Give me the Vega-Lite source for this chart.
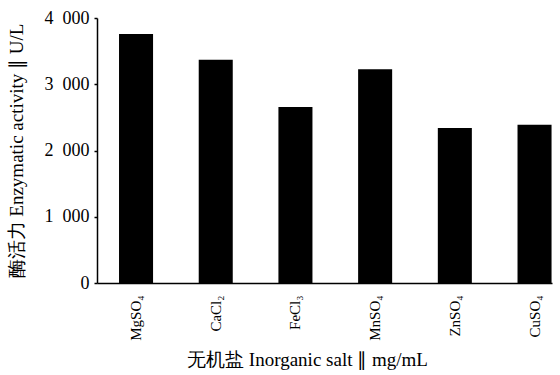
{
  "$schema": "https://vega.github.io/schema/vega-lite/v6.json",
  "autosize": {"type": "none"},
  "padding": {"left": 97, "top": 18, "right": 8, "bottom": 92},
  "width": 455,
  "height": 265,
  "background": "white",
  "config": {
    "view": {"stroke": null},
    "font": "Liberation Serif"
  },
  "data": {
    "values": [
      {"salt": "MgSO₄", "activity": 3760},
      {"salt": "CaCl₂", "activity": 3370},
      {"salt": "FeCl₃", "activity": 2655},
      {"salt": "MnSO₄", "activity": 3225},
      {"salt": "ZnSO₄", "activity": 2340},
      {"salt": "CuSO₄", "activity": 2390}
    ]
  },
  "mark": {"type": "bar", "color": "black"},
  "encoding": {
    "x": {
      "field": "salt",
      "type": "nominal",
      "sort": null,
      "scale": {"paddingInner": 0.573, "paddingOuter": 0.141, "align": 0.98},
      "axis": {
        "title": "无机盐 Inorganic salt ∥ mg/mL",
        "titleFont": "Liberation Serif",
        "titleFontSize": 19,
        "titleFontWeight": "normal",
        "titleColor": "black",
        "titlePadding": 10,
        "titleX": 210,
        "labelAngle": -90,
        "labelAlign": "right",
        "labelBaseline": "middle",
        "labelFont": "Liberation Serif",
        "labelFontSize": 15,
        "labelColor": "black",
        "labelPadding": 12,
        "ticks": false,
        "domainColor": "black",
        "domainWidth": 1.5,
        "grid": false
      }
    },
    "y": {
      "field": "activity",
      "type": "quantitative",
      "scale": {"domain": [0, 4000]},
      "axis": {
        "title": "酶活力 Enzymatic activity ∥ U/L",
        "titleFont": "Liberation Serif",
        "titleFontSize": 19,
        "titleFontWeight": "normal",
        "titleColor": "black",
        "titlePadding": 18,
        "values": [0, 1000, 2000, 3000, 4000],
        "labelExpr": "replace(format(datum.value, ','), ',', '\u2007')",
        "labelFont": "Liberation Serif",
        "labelFontSize": 18,
        "labelColor": "black",
        "labelPadding": 5,
        "tickSize": 3,
        "tickColor": "black",
        "tickWidth": 1.5,
        "domainColor": "black",
        "domainWidth": 1.5,
        "grid": false
      }
    }
  }
}
